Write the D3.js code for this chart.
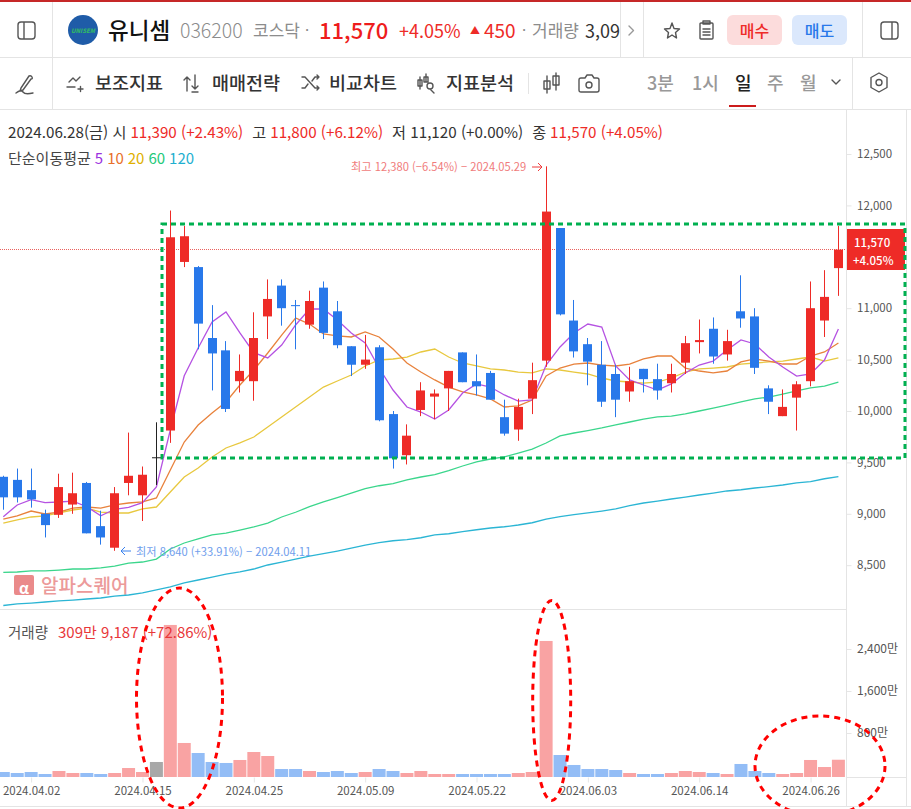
<!DOCTYPE html>
<html lang="ko">
<head>
<meta charset="utf-8">
<title>유니셈 036200</title>
<script src="https://cdnjs.cloudflare.com/ajax/libs/d3/7.8.5/d3.min.js"></script>
<style>
  html, body { margin: 0; padding: 0; background: #fff; }
  svg { display: block; font-family: "Noto Sans CJK KR", "Noto Sans", sans-serif; }
  .axis path, .axis line { stroke: #e6e6e6; }
  .axis text { fill: #555; font-family: "Noto Sans CJK KR", "Noto Sans", sans-serif; }
  .icon { fill: none; stroke: #555; stroke-width: 1.4; stroke-linecap: round; stroke-linejoin: round; }
</style>
</head>
<body>
<svg id="chart" width="911" height="809"></svg>
<script>
// 거래일
var dates = [
  '2024.03.29', '2024.04.01', '2024.04.02', '2024.04.03', '2024.04.04', '2024.04.05', '2024.04.08', '2024.04.09',
  '2024.04.11', '2024.04.12', '2024.04.15', '2024.04.16', '2024.04.17', '2024.04.18', '2024.04.19', '2024.04.22',
  '2024.04.23', '2024.04.24', '2024.04.25', '2024.04.26', '2024.04.29', '2024.04.30', '2024.05.02', '2024.05.03',
  '2024.05.07', '2024.05.08', '2024.05.09', '2024.05.10', '2024.05.13', '2024.05.14', '2024.05.16', '2024.05.17',
  '2024.05.20', '2024.05.21', '2024.05.22', '2024.05.23', '2024.05.24', '2024.05.27', '2024.05.28', '2024.05.29',
  '2024.05.30', '2024.05.31', '2024.06.03', '2024.06.04', '2024.06.05', '2024.06.07', '2024.06.10', '2024.06.11',
  '2024.06.12', '2024.06.13', '2024.06.14', '2024.06.17', '2024.06.18', '2024.06.19', '2024.06.20', '2024.06.21',
  '2024.06.24', '2024.06.25', '2024.06.26', '2024.06.27', '2024.06.28'
];

// 시가, 고가, 저가, 종가
var opens = [
  9360, 9330, 9230, 9000, 8990, 9090, 9300, 8880, 8670, 9300, 9180, 9550, 9810, 11450, 11400, 10710,
  10590, 10290, 10290, 10920, 11220, 11030, 10840, 11200, 10970, 10630, 10450, 10620, 9970, 9570, 10010, 10140,
  10220, 10570, 10290, 10370, 9940, 9820, 10120, 10490, 11780, 10880, 10650, 10450, 10360, 10190, 10410, 10310,
  10270, 10470, 10670, 10800, 10550, 10970, 10920, 10220, 9950, 10130, 10290, 10880, 11390
];
var highs = [
  9370, 9440, 9440, 9040, 9390, 9400, 9310, 9030, 9260, 9790, 9460, 9890, 11950, 11800, 11410, 11030,
  10680, 10550, 10960, 11280, 11280, 11080, 11170, 11260, 11070, 10630, 10740, 10640, 10000, 9870, 10280, 10210,
  10390, 10570, 10550, 10390, 10110, 10120, 10470, 12380, 11780, 11080, 10710, 10680, 10450, 10430, 10410, 10460,
  10460, 10730, 10890, 10910, 10790, 11320, 11000, 10250, 10210, 10290, 11260, 11370, 11800
];
var lows = [
  9040, 9110, 9060, 8770, 8960, 9000, 8810, 8700, 8640, 9180, 8930, 9280, 9690, 11400, 10600, 10200,
  9990, 10180, 10100, 10700, 10830, 10600, 10800, 10700, 10610, 10340, 10410, 9900, 9440, 9480, 9950, 9920,
  10000, 10280, 10150, 10110, 9760, 9710, 9970, 10430, 10930, 10520, 10250, 10040, 9940, 10090, 10180, 10110,
  10180, 10360, 10560, 10460, 10490, 10810, 10360, 9970, 9950, 9810, 10240, 10720, 11120
];
var closes = [
  9160, 9160, 9140, 8890, 9260, 9200, 8810, 8770, 9200, 9370, 9380, 9550, 11690, 11700, 10850, 10560,
  10020, 10390, 10710, 11090, 11000, 11020, 11070, 10760, 10640, 10450, 10500, 9910, 9540, 9760, 10200, 10170,
  10390, 10280, 10240, 10110, 9780, 10040, 10300, 11940, 10940, 10580, 10480, 10090, 10110, 10290, 10310, 10200,
  10360, 10660, 10690, 10530, 10680, 10900, 10420, 10090, 10040, 10260, 11000, 11110, 11570
];

// 이동평균
var ma5 = [
  8972, 9086, 9137, 9108, 9115, 9124, 9069, 8981, 9044, 9063, 9108, 9261, 9815, 10343, 10613, 10866,
  10963, 10759, 10567, 10516, 10642, 10837, 10992, 10992, 10885, 10759, 10662, 10418, 10204, 10039, 9990, 9922,
  10010, 10175, 10263, 10233, 10156, 10097, 10107, 10447, 10623, 10759, 10846, 10817, 10438, 10302, 10253, 10204,
  10263, 10370, 10447, 10486, 10593, 10691, 10652, 10525, 10428, 10340, 10360, 10496, 10798
];
var ma10 = [
  8949, 8979, 9027, 8998, 9017, 9056, 9066, 9056, 9086, 9105, 9115, 9154, 9426, 9698, 9864, 9981,
  10088, 10253, 10399, 10564, 10739, 10905, 10846, 10749, 10730, 10720, 10769, 10720, 10603, 10467, 10379, 10302,
  10233, 10185, 10156, 10117, 10039, 10049, 10107, 10340, 10418, 10457, 10467, 10447, 10438, 10457, 10506, 10535,
  10535, 10418, 10389, 10370, 10389, 10477, 10506, 10486, 10457, 10457, 10535, 10574, 10662
];
var ma20 = [
  8910, 8940, 8969, 8979, 9008, 9037, 9056, 9017, 9008, 9008, 9047, 9066, 9212, 9358, 9446, 9553,
  9640, 9689, 9747, 9844, 9942, 10039, 10136, 10233, 10292, 10350, 10438, 10496, 10506, 10525, 10574, 10603,
  10525, 10467, 10438, 10409, 10399, 10379, 10370, 10409, 10399, 10379, 10360, 10321, 10292, 10282, 10272, 10282,
  10321, 10379, 10409, 10418, 10428, 10457, 10467, 10477, 10486, 10506, 10525, 10486, 10516
];
var ma60 = [
  8431, 8434, 8444, 8444, 8453, 8463, 8463, 8473, 8492, 8521, 8531, 8560, 8658, 8716, 8755, 8794,
  8813, 8842, 8872, 8910, 8969, 9015, 9069, 9115, 9157, 9202, 9244, 9273, 9293, 9329, 9358, 9380,
  9419, 9465, 9504, 9533, 9553, 9591, 9630, 9689, 9757, 9786, 9810, 9835, 9864, 9893, 9922, 9942,
  9951, 9971, 10000, 10029, 10058, 10088, 10117, 10136, 10165, 10195, 10224, 10243, 10282
];
var ma120 = [
  8108, 8123, 8132, 8142, 8152, 8161, 8171, 8181, 8200, 8210, 8230, 8259, 8288, 8327, 8356, 8385,
  8414, 8434, 8463, 8502, 8531, 8560, 8589, 8612, 8638, 8667, 8696, 8719, 8738, 8748, 8767, 8794,
  8806, 8826, 8845, 8862, 8874, 8891, 8913, 8949, 8972, 8991, 9008, 9027, 9047, 9079, 9105, 9124,
  9144, 9163, 9183, 9202, 9222, 9234, 9251, 9264, 9280, 9300, 9312, 9341, 9361
];

// 거래량 (만)
var volumes = [
  76, 57, 76, 38, 95, 57, 57, 38, 57, 152, 76, 267, 2877, 629, 438, 267,
  248, 305, 457, 381, 133, 133, 95, 76, 95, 57, 76, 133, 95, 57, 95, 38,
  38, 38, 38, 38, 38, 57, 76, 2572, 400, 210, 133, 133, 114, 57, 38, 38,
  57, 95, 76, 57, 38, 229, 95, 57, 38, 57, 305, 171, 310
];

var priceTicks = [8500, 9000, 9500, 10000, 10500, 11000, 12000, 12500];
var volumeTicks = [800, 1600, 2400];
var dateTicks = ['2024.04.02', '2024.04.15', '2024.04.25', '2024.05.09', '2024.05.22', '2024.06.03', '2024.06.14', '2024.06.26'];

var RED = '#ee2b27';
var BLUE = '#2878ea';
var maSeries = [
  { label: '120', values: ma120, color: '#2bb5d4', text: '#1fb0d0' },
  { label: '60', values: ma60, color: '#3bd68c', text: '#25c97a' },
  { label: '20', values: ma20, color: '#e8c83f', text: '#e0b000' },
  { label: '10', values: ma10, color: '#e8823c', text: '#e8702a' },
  { label: '5', values: ma5, color: '#b552e2', text: '#9b30e0' }
];

var svg = d3.select('#chart');

var x = d3.scalePoint().domain(dates).range([3.3, 838.4]);
var yPrice = d3.scaleLinear().domain([8500, 12500]).range([565.2, 154]);
var yVolume = d3.scaleLinear().domain([0, 2400]).range([776, 650]);
var crisp = function(v) { return Math.round(v - 0.5) + 0.5; };

// 레이아웃 선
function hline(y, x1, x2, color) {
  svg.append('line').attr('x1', x1).attr('x2', x2).attr('y1', y).attr('y2', y).attr('stroke', color || '#e4e4e4');
}
function vline(x0, y1, y2, color) {
  svg.append('line').attr('x1', x0).attr('x2', x0).attr('y1', y1).attr('y2', y2).attr('stroke', color || '#e4e4e4');
}
function label(s, px, py, size, color, weight, anchor) {
  return svg.append('text').attr('x', px).attr('y', py).attr('font-size', size).attr('fill', color)
    .attr('font-weight', weight || 400).attr('text-anchor', anchor || 'start').attr('dominant-baseline', 'central').text(s);
}
function icon(px, py, d) {
  return svg.append('path').attr('class', 'icon').attr('transform', 'translate(' + px + ',' + py + ')').attr('d', d);
}

svg.append('rect').attr('x', 0).attr('y', 0).attr('width', 911).attr('height', 2).attr('fill', '#c62828');
hline(57.5, 0, 911);
hline(109.5, 0, 911);
hline(609.5, 0, 846);
hline(806.5, 0, 911);
hline(777.5, 846, 906);
vline(52.5, 2, 109);
vline(620.5, 2, 57);
vline(643.5, 2, 57);
vline(862.5, 2, 57);
vline(852.5, 57, 109);
vline(528.5, 73, 94);
vline(906.5, 109, 806);

// 상단 종목 정보
icon(18, 22, 'M3 0H14Q17 0 17 3V14Q17 17 14 17H3Q0 17 0 14V3Q0 0 3 0ZM6 0V17');
svg.append('circle').attr('cx', 83).attr('cy', 30).attr('r', 15).attr('fill', '#1f5ca8');
label('UNISEM', 83, 30, 6, '#2fb56a', 800, 'middle').attr('font-style', 'italic');
label('유니셈', 108, 29, 22.5, '#111', 500);
label('036200', 180, 29.5, 19.5, '#8c8c8c', 300);
label('코스닥', 253, 29.5, 17, '#8c8c8c', 400);
label('·', 305, 29.5, 15, '#888');
label('11,570', 319, 29, 22, '#ee1c1c', 500);
label('+4.05%', 399, 29.5, 18, RED, 400);
label('▲', 470, 29.5, 10, RED, 400);
label('450', 484, 29.5, 19, RED, 400);
label('·', 522, 29.5, 15, '#888');
label('거래량', 532, 29.5, 17, '#8c8c8c', 400);
label('3,09', 585, 29.5, 18, '#333', 400);
icon(629, 26, 'M0 0L4.5 4.5L0 9').style('stroke', '#999');
icon(664, 23, 'M8 0L10 5.5L15.5 6L11.5 9.5L12.5 15L8 12L3.5 15L4.5 9.5L.5 6L6 5.5Z');
icon(698, 21, 'M3 2H14Q15 2 15 3V17Q15 18 14 18H3Q2 18 2 17V3Q2 2 3 2ZM5 0H12V3H5ZM5 8H12M5 11H12M5 14H12');
svg.append('rect').attr('x', 727).attr('y', 15).attr('width', 55).attr('height', 30).attr('rx', 6).attr('fill', '#fcdcdc');
label('매수', 754.5, 29.5, 16, RED, 500, 'middle');
svg.append('rect').attr('x', 792).attr('y', 15).attr('width', 55).attr('height', 30).attr('rx', 6).attr('fill', '#dbe8fc');
label('매도', 819.5, 29.5, 16, BLUE, 500, 'middle');
icon(881, 22, 'M3 0H14Q17 0 17 3V14Q17 17 14 17H3Q0 17 0 14V3Q0 0 3 0ZM11 0V17');

// 툴바
icon(16, 75, 'M5 13L13 1Q15 0 16 2T15 4L7 15L4 16ZM0 18Q5 14 7 17T17 18');
var tools = [['보조지표', 95, 'M0 10H8M2 5L6 1L9 4L13 0M11 12H16M13.5 9.5V14.5', 67, 77], ['매매전략', 212, 'M3 16V2M0 5L3 2L6 5M11 0V14M8 11L11 14L14 11M8 17H14', 184, 75], ['비교차트', 329, 'M0 2H3L13 13H17M0 13H3L6 9M10 6L13 2H17M15 0L17 2L15 4M15 11L17 13L15 15', 302, 75], ['지표분석', 446, 'M2 3V15M0 6H4V12H0ZM8 0V8M6 3H10V8H6ZM12 15L16 19M9 12A3 3 0 1 0 15 12A3 3 0 1 0 9 12', 418, 74]];
tools.forEach(function(t) {
  label(t[0], t[1], 81.5, 18.5, '#333', 500);
  icon(t[3], t[4], t[2]);
});
icon(544, 73, 'M3 3V20M0 8H6V16H0ZM12 0V17M9 3H15V12H9Z');
icon(579, 75, 'M2 3H6L8 0H13L15 3H18Q20 3 20 5V15Q20 17 18 17H2Q0 17 0 15V5Q0 3 2 3ZM7 10A3 3 0 1 0 13 10A3 3 0 1 0 7 10');
var periods = [['3분', 647, '#999'], ['1시', 692, '#999'], ['일', 735, '#222'], ['주', 767, '#999'], ['월', 800, '#999']];
periods.forEach(function(p) {
  label(p[0], p[1], 81.5, 18, p[2], 500);
});
svg.append('rect').attr('x', 729).attr('y', 105).attr('width', 27).attr('height', 2).attr('fill', '#cc1c1c');
icon(832, 80, 'M0 0L4 4L8 0');
icon(870, 73, 'M9 0L17 4.5V14.5L9 19L1 14.5V4.5ZM6 9.5A3 3 0 1 0 12 9.5A3 3 0 1 0 6 9.5');

// 시세 요약
var info = label('', 8, 131, 15.2, '#333', 400);
[['2024.06.28(금) 시', '#333', 0], ['11,390 (+2.43%)', RED, 4], ['고', '#333', 9], ['11,800 (+6.12%)', RED, 4],
  ['저 11,120 (+0.00%)', '#333', 9], ['종', '#333', 9], ['11,570 (+4.05%)', RED, 4]].forEach(function(s) {
  info.append('tspan').attr('fill', s[1]).attr('dx', s[2]).text(s[0]);
});
var legend = label('', 8, 157, 15, '#444', 400);
legend.append('tspan').text('단순이동평균');
maSeries.slice().reverse().forEach(function(m) {
  legend.append('tspan').attr('dx', 4).attr('fill', m.text).text(m.label);
});

// 워터마크
svg.append('rect').attr('x', 14).attr('y', 575).attr('width', 20).attr('height', 20).attr('rx', 2).attr('fill', '#ea8a8a');
label('α', 24, 587, 15, '#fff', 700, 'middle');
label('알파스퀘어', 41, 584, 19, '#ec9a9a', 500);

// 현재가 선
svg.append('line').attr('x1', 0).attr('x2', 846).attr('y1', crisp(yPrice(11570))).attr('y2', crisp(yPrice(11570)))
  .attr('stroke', '#e53935').attr('stroke-width', 0.8).attr('stroke-dasharray', '1,1');

// 축
svg.append('g').attr('class', 'axis').attr('transform', 'translate(846.5,0)')
  .call(d3.axisRight(yPrice).tickValues(priceTicks).tickSize(5).tickPadding(5.5).tickFormat(d3.format(',')))
  .call(function(g) {
    g.select('.domain').remove();
    g.selectAll('text').attr('font-size', 11.5);
  });
svg.append('g').attr('class', 'axis').attr('transform', 'translate(846.5,-1)')
  .call(d3.axisRight(yVolume).tickValues(volumeTicks).tickSize(5).tickPadding(5.5).tickFormat(function(d) {
    return d3.format(',')(d) + '만';
  }))
  .call(function(g) {
    g.select('.domain').remove();
    g.selectAll('text').attr('font-size', 12);
  });
vline(846.5, 109, 806);
svg.append('g').attr('class', 'axis').attr('transform', 'translate(0,777.5)')
  .call(d3.axisBottom(x).tickValues(dateTicks).tickSize(5).tickPadding(4))
  .call(function(g) {
    g.select('.domain').remove();
    g.selectAll('text').attr('font-size', 11.5);
  });

// 거래량 막대
svg.append('g').selectAll('rect').data(volumes).join('rect')
  .attr('x', function(d, i) { return x(dates[i]) - 6.5; })
  .attr('width', 13)
  .attr('y', function(d) { return yVolume(d); })
  .attr('height', function(d) { return 777 - yVolume(d); })
  .attr('fill', function(d, i) {
    if (closes[i] === opens[i]) return '#a8a8a8';
    return closes[i] > opens[i] ? '#f9a3a3' : '#93bdf6';
  });

label('거래량', 8, 631, 14.5, '#555', 400);
label('309만 9,187 (+72.86%)', 58, 631, 15, '#e8383a', 400);

// 이동평균선
var line = d3.line().x(function(d, i) { return x(dates[i]); }).y(function(d) { return yPrice(d); });
svg.append('g').selectAll('path').data(maSeries).join('path')
  .attr('d', function(m) { return line(m.values); })
  .attr('fill', 'none')
  .attr('stroke', function(m) { return m.color; })
  .attr('stroke-width', 1.3);

// 캔들
function candleColor(i) {
  if (closes[i] === opens[i]) return '#222';
  return closes[i] > opens[i] ? RED : BLUE;
}
var candles = svg.append('g').selectAll('g').data(dates).join('g');
candles.append('line')
  .attr('x1', function(d) { return crisp(x(d)); })
  .attr('x2', function(d) { return crisp(x(d)); })
  .attr('y1', function(d, i) { return yPrice(highs[i]); })
  .attr('y2', function(d, i) { return yPrice(lows[i]); })
  .attr('stroke', function(d, i) { return candleColor(i); });
candles.append('rect')
  .attr('x', function(d) { return crisp(x(d)) - 4.5; })
  .attr('width', 9)
  .attr('y', function(d, i) { return yPrice(Math.max(opens[i], closes[i])); })
  .attr('height', function(d, i) { return Math.max(1, Math.abs(yPrice(opens[i]) - yPrice(closes[i]))); })
  .attr('fill', function(d, i) { return candleColor(i); });

// 최고 / 최저 표시
label('최고 12,380 (−6.54%) − 2024.05.29', 351, yPrice(12380), 11.2, '#f07c7c', 400);
svg.append('path').attr('d', 'M532 167H542M538 163L542 167L538 171').attr('fill', 'none').attr('stroke', '#ee3b3b');
label('최저 8,640 (+33.91%) − 2024.04.11', 136, yPrice(8640), 11.2, '#6f9eec', 400);
svg.append('path').attr('d', 'M131 551H121M125 547L121 551L125 555').attr('fill', 'none').attr('stroke', '#3b82ee');

// 현재가 태그
svg.append('rect').attr('x', 847).attr('y', 229).attr('width', 58).attr('height', 41).attr('fill', RED);
label('11,570', 854, 242, 11.5, '#fff', 500);
label('+4.05%', 853, 260, 11.5, '#fff', 500);

// 사각형과 타원 표시
svg.append('rect').attr('x', 162).attr('y', 224).attr('width', 743).attr('height', 234)
  .attr('fill', 'none').attr('stroke', '#00b050').attr('stroke-width', 3).attr('stroke-dasharray', '5,4');
[[179.5, 698, 43, 110], [551.7, 700.5, 19, 100], [820, 766, 65, 50]].forEach(function(e) {
  svg.append('ellipse').attr('cx', e[0]).attr('cy', e[1]).attr('rx', e[2]).attr('ry', e[3])
    .attr('fill', 'none').attr('stroke', '#f00').attr('stroke-width', 3).attr('stroke-dasharray', '6,5');
});
</script>
</body>
</html>
